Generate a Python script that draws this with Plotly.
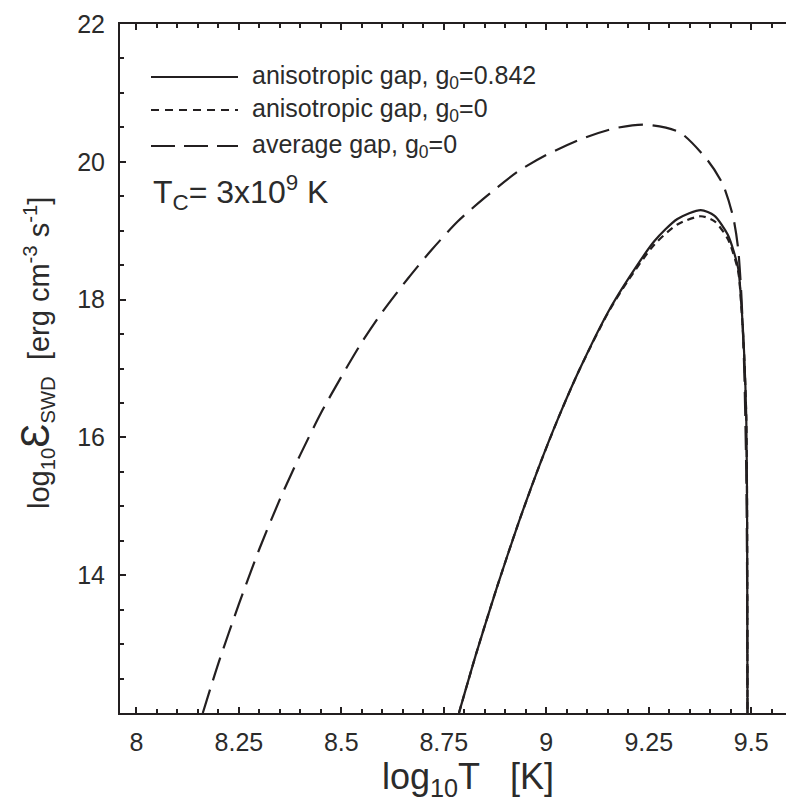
import plotly.graph_objects as go

# ---------------- data ----------------
T_solid = [8.787, 8.83, 8.88, 8.93, 8.98, 9.03, 9.08, 9.15, 9.2, 9.264, 9.32, 9.377,
           9.41, 9.443, 9.468, 9.476, 9.483, 9.488, 9.490, 9.491]
E_solid = [12.0, 12.88, 13.83, 14.72, 15.54, 16.29, 16.97, 17.81, 18.3, 18.85, 19.17, 19.3,
           19.22, 18.94, 18.46, 17.93, 17.2, 16.3, 15.0, 12.0]

T_dot = [8.787, 8.83, 8.88, 8.93, 8.98, 9.03, 9.08, 9.15, 9.2, 9.264, 9.32, 9.377,
         9.41, 9.443, 9.468, 9.476, 9.483, 9.488, 9.490, 9.491]
E_dot = [12.0, 12.88, 13.83, 14.72, 15.54, 16.29, 16.97, 17.8, 18.28, 18.8, 19.09, 19.21,
         19.14, 18.88, 18.42, 17.9, 17.18, 16.3, 15.0, 12.0]

T_avg = [8.162, 8.2, 8.25, 8.3, 8.35, 8.4, 8.45, 8.5, 8.55, 8.6, 8.663, 8.72, 8.785,
         8.85, 8.931, 9.0, 9.094, 9.17, 9.24, 9.325, 9.394, 9.431, 9.456, 9.468,
         9.476, 9.483, 9.488, 9.490, 9.491]
E_avg = [12.0, 12.72, 13.58, 14.38, 15.1, 15.75, 16.35, 16.88, 17.38, 17.82, 18.31, 18.72, 19.14,
         19.48, 19.86, 20.1, 20.35, 20.49, 20.54, 20.43, 20.02, 19.67, 19.2, 18.75,
         18.07, 17.0, 15.5, 14.0, 12.0]

x_ticks = [8, 8.25, 8.5, 8.75, 9, 9.25, 9.5]
x_ticktext = ["8", "8.25", "8.5", "8.75", "9", "9.25", "9.5"]
y_ticks = [14, 16, 18, 20, 22]
y_ticktext = ["14", "16", "18", "20", "22"]

legend_labels = ["anisotropic gap, g<sub>0</sub>=0.842",
                 "anisotropic gap, g<sub>0</sub>=0",
                 "average gap, g<sub>0</sub>=0"]

# ---------------- styling ----------------
INK = "#231f20"
TXT = "#2b2b2b"
FONT = "Liberation Sans, Arial, sans-serif"
W, H = 794, 802
ML, MR, MT, MB = 112, 0, 16, 97
PW, PH = W - ML - MR, H - MT - MB

def px(xp):
    return (xp - ML) / PW

def py(yp):
    return (H - MB - yp) / PH

dashes = ["solid", "7px,5px", "24px,10px"]

fig = go.Figure()
series = [(T_solid, E_solid), (T_dot, E_dot), (T_avg, E_avg)]
for (xs, ys), d in zip(series, dashes):
    fig.add_trace(go.Scatter(x=xs, y=ys, mode="lines",
                             line=dict(color=INK, width=2.2, dash=d,
                                       shape="spline", smoothing=0.7),
                             showlegend=False, hoverinfo="skip"))

# custom legend
rows_y = [69, 102, 138]
legend_dash = ["solid", "8px,6px", "24px,9px"]
for yy, d, lab in zip(rows_y, legend_dash, legend_labels):
    fig.add_shape(type="line", xref="paper", yref="paper",
                  x0=px(143), x1=px(230), y0=py(yy), y1=py(yy),
                  line=dict(color=INK, width=2.2, dash=d))
    fig.add_annotation(x=px(242), y=py(yy), xref="paper", yref="paper",
                       text=lab, showarrow=False, xanchor="left", yanchor="middle",
                       font=dict(family=FONT, size=25, color=TXT))

fig.add_annotation(x=px(143), y=py(185), xref="paper", yref="paper",
                   text="T<sub>C</sub>= 3x10<sup>9</sup> K", showarrow=False,
                   xanchor="left", yanchor="middle",
                   font=dict(family=FONT, size=32, color=TXT))

# axis titles
fig.add_annotation(x=px(460), y=py(796), xref="paper", yref="paper",
                   text="log<sub>10</sub>T&nbsp;&nbsp;&nbsp;[K]", showarrow=False,
                   xanchor="center", yanchor="bottom",
                   font=dict(family=FONT, size=36, color=TXT))
fig.add_annotation(x=px(28), y=py(345), xref="paper", yref="paper",
                   text=("log<sub>10</sub><span style='font-size:40px'>Ɛ</span><sub>SWD</sub>"
                         "&nbsp;&nbsp;[erg cm<sup>-3</sup> s<sup>-1</sup>]"),
                   showarrow=False, textangle=-90,
                   xanchor="center", yanchor="middle",
                   font=dict(family=FONT, size=29, color=TXT))

axis_common = dict(showgrid=False, zeroline=False, showline=True, linewidth=2,
                   linecolor=INK, ticks="inside", tickwidth=2, tickcolor=INK,
                   tickfont=dict(family=FONT, size=25, color=TXT))

fig.update_xaxes(range=[7.96, 9.624], tickmode="array", tickvals=x_ticks,
                 ticktext=x_ticktext, ticklen=6, mirror="ticks",
                 ticklabelstandoff=6,
                 minor=dict(tick0=8, dtick=0.05, ticks="inside", ticklen=4,
                            tickwidth=1.6, tickcolor=INK),
                 **axis_common)
fig.update_yaxes(range=[12, 22], tickmode="array", tickvals=y_ticks,
                 ticktext=y_ticktext, ticklen=6, mirror=False,
                 ticklabelstandoff=8,
                 minor=dict(tick0=12, dtick=0.5, ticks="inside", ticklen=4,
                            tickwidth=1.6, tickcolor=INK),
                 **axis_common)

fig.update_layout(width=W, height=H, margin=dict(l=ML, r=MR, t=MT, b=MB),
                  plot_bgcolor="white", paper_bgcolor="white",
                  font=dict(family=FONT, color=TXT), showlegend=False)

fig.write_html("out.html")
